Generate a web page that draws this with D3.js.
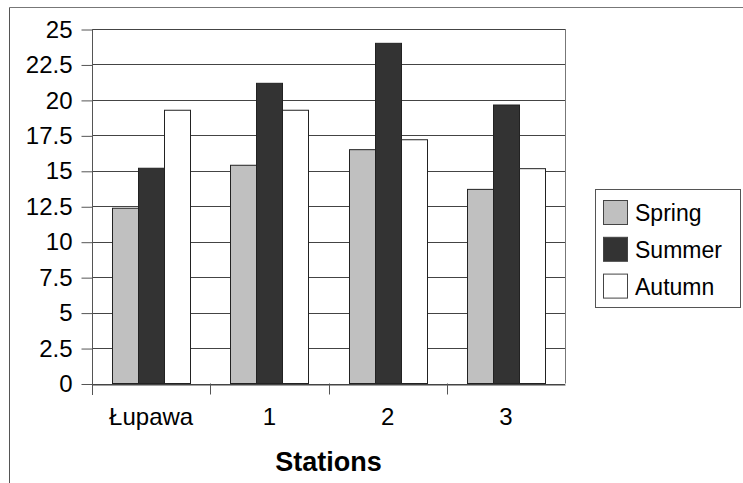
<!DOCTYPE html>
<html><head><meta charset="utf-8">
<script src="https://cdn.jsdelivr.net/npm/d3@7/dist/d3.min.js"></script>
<style>body{margin:0;background:#fff}text{font-family:"Liberation Sans",Arial,sans-serif;fill:#000}</style>
</head><body><svg id="c" width="743" height="483"></svg>
<script>
const categories = ["Łupawa", "1", "2", "3"];
const seriesNames = ["Spring", "Summer", "Autumn"];
const spring = [12.36, 15.39, 16.49, 13.69];
const summer = [15.18, 21.17, 23.99, 19.64];
const autumn = [19.27, 19.27, 17.19, 15.15];
const yTicks = [0, 2.5, 5, 7.5, 10, 12.5, 15, 17.5, 20, 22.5, 25];
const xTitle = "Stations";
const colors = ["#c0c0c0", "#333333", "#ffffff"];

const series = [spring, summer, autumn];
const svg = d3.select("#c");
const L = 92, R = 565, T = 29, B = 383.5;
const x = d3.scaleBand().domain(categories).range([L, R]).paddingInner(0).paddingOuter(0);
const x1 = d3.scaleBand().domain(seriesNames).range([0, x.bandwidth()]).paddingInner(0).paddingOuter(0.77);
const y = d3.scaleLinear().domain([0, 25]).range([B, T]);

// outer frame
svg.append("line").attr("x1", 9.5).attr("x2", 743).attr("y1", 7.5).attr("y2", 7.5).attr("stroke", "#777");
svg.append("line").attr("x1", 9.5).attr("x2", 9.5).attr("y1", 7.5).attr("y2", 483).attr("stroke", "#555");

// gridlines
svg.append("g").selectAll("line").data(yTicks).join("line")
  .attr("x1", L).attr("x2", R).attr("y1", d => Math.round(y(d)) + 0.5).attr("y2", d => Math.round(y(d)) + 0.5)
  .attr("stroke", "#444");
svg.append("line").attr("x1", R + 0.5).attr("x2", R + 0.5).attr("y1", y(25)).attr("y2", y(0)).attr("stroke", "#777");

// bars
const g = svg.append("g");
categories.forEach((c, i) => {
  g.selectAll(null).data(series.map((s, k) => ({k, v: s[i]}))).join("rect")
    .attr("x", d => Math.round(x(c) + x1(seriesNames[d.k])) + 0.5)
    .attr("width", Math.round(x1.bandwidth()))
    .attr("y", d => y(d.v))
    .attr("height", d => y(0) - y(d.v))
    .attr("fill", d => colors[d.k])
    .attr("stroke", "#222").attr("stroke-width", 1);
});

// y axis
const ya = svg.append("g").attr("transform", `translate(${L + 0.5},0.5)`)
  .call(d3.axisLeft(y).tickValues(yTicks).tickSize(11).tickPadding(9).tickFormat(d => String(d)));
ya.select(".domain").remove();
ya.append("line").attr("x1", 0).attr("x2", 0).attr("y1", T - 0.5).attr("y2", B + 11).attr("stroke", "#555");
ya.selectAll(".tick line").attr("stroke", "#555");
ya.selectAll(".tick text").attr("font-size", 24).attr("font-family", "Liberation Sans, Arial, sans-serif").attr("fill", "#000");

// x axis
const xa = svg.append("g").attr("transform", `translate(0,${Math.round(B) + 0.5})`)
  .call(d3.axisBottom(x).tickSize(0).tickPadding(23));
xa.select(".domain").attr("stroke", "#444");
xa.selectAll(".tick text").attr("font-size", 24).attr("font-family", "Liberation Sans, Arial, sans-serif").attr("fill", "#000");
svg.append("g").selectAll("line").data(categories.slice(1)).join("line")
  .attr("x1", d => Math.round(x(d)) + 0.5).attr("x2", d => Math.round(x(d)) + 0.5)
  .attr("y1", B).attr("y2", B + 11).attr("stroke", "#555");

svg.append("text").attr("x", (L + R) / 2).attr("y", 471).attr("text-anchor", "middle")
  .attr("font-size", 27).attr("font-weight", "bold").text(xTitle);

// legend
const lg = svg.append("g");
lg.append("rect").attr("x", 595.5).attr("y", 189.5).attr("width", 145).attr("height", 118)
  .attr("fill", "#fff").attr("stroke", "#555");
seriesNames.forEach((n, k) => {
  const cy = 212.5 + k * 36.8;
  lg.append("rect").attr("x", 603.5).attr("y", cy - 12).attr("width", 24).attr("height", 24)
    .attr("fill", colors[k]).attr("stroke", "#444");
  lg.append("text").attr("x", 635).attr("y", cy + 8.5).attr("font-size", 23).text(n);
});
</script></body></html>
